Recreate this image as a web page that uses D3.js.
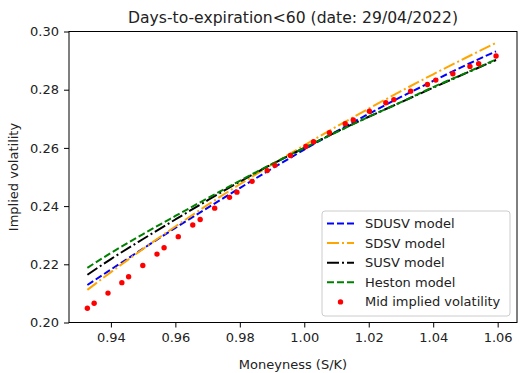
<!DOCTYPE html>
<html>
<head>
<meta charset="utf-8">
<script src="https://cdn.jsdelivr.net/npm/d3@7"></script>
<style>
  body { margin: 0; background: #fff; }
  svg { display: block; font-family: "DejaVu Sans", sans-serif; }
</style>
</head>
<body>
<svg id="chart" width="526" height="373"></svg>
<script>
// market data: moneyness of each strike and its mid implied vol
const moneyness = [0.9327, 0.9348, 0.9391, 0.9434, 0.9455, 0.9499, 0.9543, 0.9565, 0.9609, 0.9654, 0.9677,
  0.9722, 0.9768, 0.9791, 0.9838, 0.9885, 0.9909, 0.9957, 1.0005, 1.0029, 1.0078, 1.0127, 1.0152,
  1.0202, 1.0253, 1.0278, 1.0330, 1.0382, 1.0408, 1.0461, 1.0514, 1.0541, 1.0595];
const midVol = [0.2049, 0.2066, 0.2101, 0.2137, 0.2157, 0.2196, 0.2235, 0.2257, 0.2295, 0.2335, 0.2354,
  0.2393, 0.2430, 0.2448, 0.2485, 0.2522, 0.2540, 0.2574, 0.2605, 0.2621, 0.2652, 0.2683, 0.2696,
  0.2726, 0.2755, 0.2766, 0.2795, 0.2818, 0.2833, 0.2855, 0.2880, 0.2889, 0.2916];

// model curves, read on a coarser moneyness grid
const gridX = [0.9327, 0.94, 0.95, 0.96, 0.97, 0.98, 0.99, 1.00, 1.01, 1.02, 1.03, 1.04, 1.05, 1.0595];
const sdusv = [0.2129, 0.2182, 0.2254, 0.2325, 0.2394, 0.2462, 0.2529, 0.2594, 0.2657, 0.2717, 0.2775, 0.2830, 0.2884, 0.2932];
const sdsv = [0.2112, 0.2173, 0.2253, 0.2330, 0.2404, 0.2475, 0.2543, 0.2609, 0.2673, 0.2735, 0.2795, 0.2853, 0.2909, 0.2961];
const susv = [0.2164, 0.2218, 0.2287, 0.2354, 0.2420, 0.2484, 0.2544, 0.2600, 0.2655, 0.2707, 0.2757, 0.2807, 0.2856, 0.2902];
const heston = [0.2188, 0.2239, 0.2304, 0.2366, 0.2427, 0.2487, 0.2545, 0.2600, 0.2654, 0.2707, 0.2757, 0.2809, 0.2857, 0.2904];

const xTicks = [0.94, 0.96, 0.98, 1.00, 1.02, 1.04, 1.06];
const yTicks = [0.20, 0.22, 0.24, 0.26, 0.28, 0.30];

const models = [
  { name: "SDUSV model", values: sdusv, color: "#0000ff", dash: "7,3" },
  { name: "SDSV model", values: sdsv, color: "#ffa500", dash: "12,3,2,3" },
  { name: "SUSV model", values: susv, color: "#000000", dash: "12,3,2,3" },
  { name: "Heston model", values: heston, color: "#008000", dash: "7,3" },
];

const svg = d3.select("#chart");
const textColor = "#222";

// plot frame edges
const plotL = 69, plotR = 517, plotT = 31.5, plotB = 322.5;

const x = d3.scaleLinear().domain([0.927, 1.066]).range([plotL, plotR]);
const y = d3.scaleLinear().domain([0.20, 0.30]).range([plotB, plotT]);

// model lines
const line = d3.line()
  .x(d => x(d[0]))
  .y(d => y(d[1]))
  .curve(d3.curveMonotoneX);

models.forEach(m => {
  svg.append("path")
    .datum(gridX.map((g, i) => [g, m.values[i]]))
    .attr("d", line)
    .attr("fill", "none")
    .attr("stroke", m.color)
    .attr("stroke-width", 2)
    .attr("stroke-dasharray", m.dash);
});

// mid implied vol points
svg.append("g")
  .selectAll("circle")
  .data(moneyness.map((m, i) => [m, midVol[i]]))
  .join("circle")
  .attr("cx", d => x(d[0]))
  .attr("cy", d => y(d[1]))
  .attr("r", 2.7)
  .attr("fill", "#ff0000");

// frame
svg.append("rect")
  .attr("x", plotL).attr("y", plotT)
  .attr("width", plotR - plotL).attr("height", plotB - plotT)
  .attr("fill", "none").attr("stroke", "#000").attr("stroke-width", 1);

// axes
const xAxis = svg.append("g")
  .attr("transform", `translate(0,${plotB})`)
  .call(d3.axisBottom(x).tickValues(xTicks).tickFormat(d3.format(".2f")).tickSize(5).tickPadding(5));
xAxis.select(".domain").remove();

const yAxis = svg.append("g")
  .attr("transform", `translate(${plotL},0)`)
  .call(d3.axisLeft(y).tickValues(yTicks).tickFormat(d3.format(".2f")).tickSize(5).tickPadding(5));
yAxis.select(".domain").remove();

svg.selectAll(".tick text")
  .attr("font-family", "DejaVu Sans")
  .attr("font-size", 13)
  .attr("fill", textColor);
svg.selectAll(".tick line").attr("stroke", "#000");

// labels + title
svg.append("text")
  .attr("x", (plotL + plotR) / 2).attr("y", 369)
  .attr("text-anchor", "middle")
  .attr("font-size", 13).attr("fill", textColor)
  .text("Moneyness (S/K)");

svg.append("text")
  .attr("transform", `translate(17.5,${(plotT + plotB) / 2}) rotate(-90)`)
  .attr("text-anchor", "middle")
  .attr("font-size", 13).attr("fill", textColor)
  .text("Implied volatility");

svg.append("text")
  .attr("x", (plotL + plotR) / 2).attr("y", 22.5)
  .attr("text-anchor", "middle")
  .attr("font-size", 15.6).attr("fill", textColor)
  .text("Days-to-expiration<60 (date: 29/04/2022)");

// legend
const legend = svg.append("g").attr("transform", "translate(322,211)");
legend.append("rect")
  .attr("width", 188).attr("height", 105).attr("rx", 3)
  .attr("fill", "#fff").attr("fill-opacity", 0.8)
  .attr("stroke", "#ccc");

const rowGap = 19.6;
models.forEach((m, i) => {
  const yy = 12.5 + i * rowGap;
  legend.append("line")
    .attr("x1", 5).attr("x2", 32).attr("y1", yy).attr("y2", yy)
    .attr("stroke", m.color).attr("stroke-width", 2).attr("stroke-dasharray", m.dash);
  legend.append("text")
    .attr("x", 43).attr("y", yy + 4.5)
    .attr("font-size", 13).attr("fill", textColor)
    .text(m.name);
});
const lastY = 12.5 + 4 * rowGap;
legend.append("circle").attr("cx", 18.5).attr("cy", lastY).attr("r", 2.7).attr("fill", "#ff0000");
legend.append("text")
  .attr("x", 43).attr("y", lastY + 4.5)
  .attr("font-size", 13).attr("fill", textColor)
  .text("Mid implied volatility");
</script>
</body>
</html>
